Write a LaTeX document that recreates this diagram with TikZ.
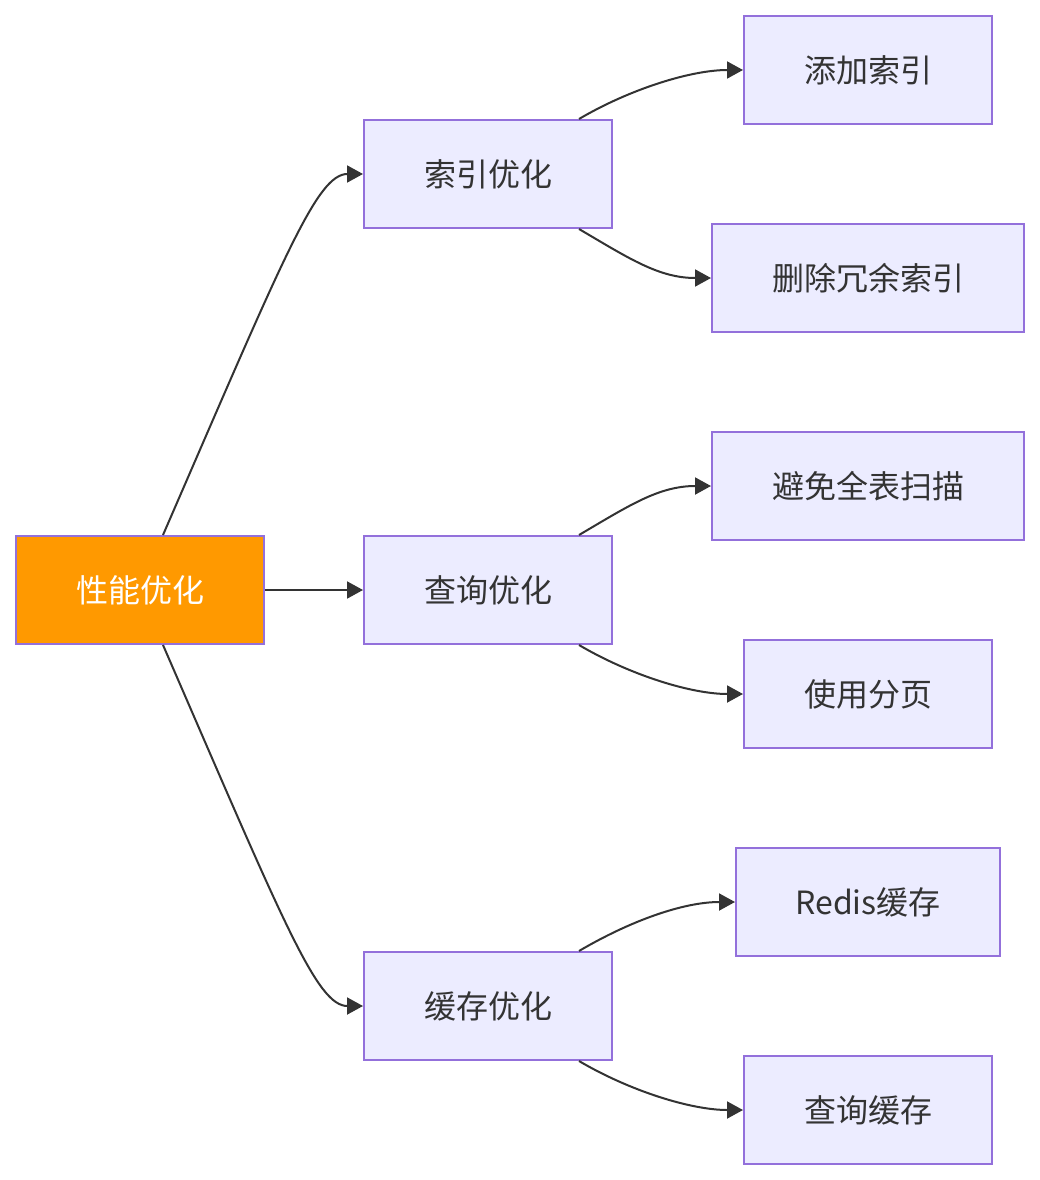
\documentclass[tikz,border=0pt]{standalone}
\usepackage{fontspec}
\setmainfont{Noto Sans CJK SC}
\usetikzlibrary{arrows.meta}

\definecolor{boxFill}{HTML}{ECECFF}
\definecolor{boxLine}{HTML}{9370DB}
\definecolor{edgeLine}{HTML}{333333}
\definecolor{rootFill}{HTML}{FF9900}

\tikzset{
	box/.style={rectangle, draw=boxLine, fill=boxFill, line width=2pt, minimum width=248pt, minimum height=108pt, inner sep=0pt, text=edgeLine, font=\fontsize{32}{38}\selectfont},
	rootbox/.style={box, fill=rootFill, text=white},
	link/.style={draw=edgeLine, line width=2pt, -{Triangle[length=16pt,width=17pt]}}
}

\begin{document}
\begin{tikzpicture}[x=1pt, y=-1pt]
		
		\useasboundingbox (0,0) rectangle (1040,1180);
		
		% Root
		\node (root) at (140,590) [rootbox]{性能优化};
		
		% Second level
		\node (idxOpt) at (488,174) [box]{索引优化};
		\node (qryOpt) at (488,590) [box]{查询优化};
		\node (cacheOpt) at (488,1006) [box]{缓存优化};
		
		% Leaves
		\node (addIdx) at (868,70) [box]{添加索引};
		\node (delIdx) at (868,278) [box, minimum width=312pt]{删除冗余索引};
		\node (noScan) at (868,486) [box, minimum width=312pt]{避免全表扫描};
		\node (paging) at (868,694) [box]{使用分页};
		\node (redis) at (868,902) [box, minimum width=264pt]{Redis缓存};
		\node (qryCache) at (868,1110) [box]{查询缓存};
		
		% Linking the root
		\draw[link] ([xshift=23pt]root.north) .. controls +(122,-281) and +(-46,0) .. (idxOpt.west);
		\draw[link] (root.east) -- (qryOpt.west);
		\draw[link] ([xshift=23pt]root.south) .. controls +(122,281) and +(-46,0) .. (cacheOpt.west);
		
		% Linking the leaves
		\draw[link] ([xshift=91pt]idxOpt.north) .. controls +(51,-30) and +(-52,0) .. (addIdx.west);
		\draw[link] ([xshift=91pt]idxOpt.south) .. controls +(51,30) and +(-52,0) .. (delIdx.west);
		\draw[link] ([xshift=91pt]qryOpt.north) .. controls +(51,-30) and +(-52,0) .. (noScan.west);
		\draw[link] ([xshift=91pt]qryOpt.south) .. controls +(51,30) and +(-52,0) .. (paging.west);
		\draw[link] ([xshift=91pt]cacheOpt.north) .. controls +(51,-30) and +(-52,0) .. (redis.west);
		\draw[link] ([xshift=91pt]cacheOpt.south) .. controls +(51,30) and +(-52,0) .. (qryCache.west);
		
\end{tikzpicture}
\end{document}
